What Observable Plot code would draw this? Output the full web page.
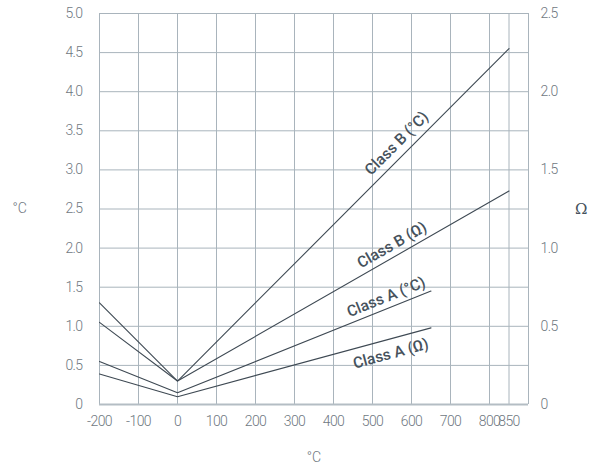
<!DOCTYPE html>
<html><head><meta charset="utf-8">
<script src="https://cdn.jsdelivr.net/npm/d3@7"></script>
<script src="https://cdn.jsdelivr.net/npm/@observablehq/plot@0.6"></script>
<style>
body{margin:0;background:#fff}
svg g[aria-label$="tick label"] text{letter-spacing:-0.6px}
</style>
</head><body><div id="chart"></div>
<script>
// ---- data ----
const seriesNames = ["Class B (°C)", "Class B (Ω)", "Class A (°C)", "Class A (Ω)"];
const seriesX = [[-200, 0, 850], [-200, 0, 850], [-200, 0, 650], [-200, 0, 650]];
const seriesY = [[1.3, 0.3, 4.55], [1.05, 0.3, 2.73], [0.55, 0.15, 1.45], [0.39, 0.1, 0.98]];
const xTicks = [-200, -100, 0, 100, 200, 300, 400, 500, 600, 700, 800, 850];
const yTicksLeft = [0, 0.5, 1, 1.5, 2, 2.5, 3, 3.5, 4, 4.5, 5];
const yTickLabelsLeft = ["0", "0.5", "1.0", "1.5", "2.0", "2.5", "3.0", "3.5", "4.0", "4.5", "5.0"];
const yTickLabelsRight = ["0", "0.5", "1.0", "1.5", "2.0", "2.5"];
const xAxisLabel = "°C", yLeftLabel = "°C", yRightLabel = "Ω";

// ---- label placement (style) ----
const labelAlongX = [562, 550, 535, 547];
const labelOffset = [-18, -13, -12, 15];

const rows = seriesNames.flatMap((name, i) => seriesX[i].map((x, j) => ({name, x, y: seriesY[i][j]})));

const W = 597, H = 475;
const common = {
  width: W, height: H,
  marginLeft: 99, marginRight: 69, marginTop: 13, marginBottom: 71,
  x: {domain: [-200, 900]},
  y: {domain: [0, 5]},
  style: {fontFamily: "Roboto, sans-serif", fontSize: "14px", color: "#6f787f", background: "#fff"}
};
const base = Plot.plot({...common, axis: null, marks: []});
const sx = base.scale("x"), sy = base.scale("y");

function interp(i, x) {
  const xs = seriesX[i], ys = seriesY[i];
  for (let j = 0; j < xs.length - 1; j++) {
    if (x >= xs[j] && x <= xs[j + 1]) return ys[j] + (ys[j + 1] - ys[j]) * (x - xs[j]) / (xs[j + 1] - xs[j]);
  }
  return ys[ys.length - 1];
}

const labelMarks = seriesNames.map((name, i) => {
  const xs = seriesX[i], ys = seriesY[i];
  const n = xs.length - 1;
  const ang = Math.atan2(sy.apply(ys[n]) - sy.apply(ys[n - 1]), sx.apply(xs[n]) - sx.apply(xs[n - 1])) * 180 / Math.PI;
  const lx = labelAlongX[i];
  return Plot.text([{x: lx, y: interp(i, lx), t: name}], {
    x: "x", y: "y", text: "t", rotate: ang, dy: labelOffset[i],
    fontSize: 15.5, fontWeight: 500, fill: "#46525c", textAnchor: "middle"
  });
});

const tickStyle = {fill: "#6f787f", fontWeight: 300, fontSize: 14};
const chart = Plot.plot({
  ...common,
  axis: null,
  marks: [
    Plot.gridX([...xTicks, 900], {stroke: "#a9b4bc", strokeOpacity: 1, strokeWidth: 1}),
    Plot.gridY(yTicksLeft, {stroke: "#a9b4bc", strokeOpacity: 1, strokeWidth: 1}),
    Plot.ruleY([0], {stroke: "#b4bdc4", strokeWidth: 2}),
    Plot.line(rows, {x: "x", y: "y", z: "name", stroke: "#3e4953", strokeWidth: 1.1}),
    ...labelMarks,
    Plot.axisX(xTicks, {anchor: "bottom", tickSize: 0, tickPadding: 12, label: null, tickFormat: d => String(d), ...tickStyle}),
    Plot.axisY(yTicksLeft, {anchor: "left", tickSize: 0, tickPadding: 17, label: null, tickFormat: (d, i) => yTickLabelsLeft[i], ...tickStyle}),
    Plot.axisY([0, 1, 2, 3, 4, 5], {anchor: "right", tickSize: 0, tickPadding: 12, label: null, tickFormat: (d, i) => yTickLabelsRight[i], ...tickStyle}),
    Plot.text([xAxisLabel], {frameAnchor: "bottom", dy: 57, fill: "#6f787f", fontSize: 14, fontWeight: 300}),
    Plot.text([yLeftLabel], {frameAnchor: "left", dx: -87, fill: "#6f787f", fontSize: 14, fontWeight: 300}),
    Plot.text([yRightLabel], {frameAnchor: "right", dx: 59, fill: "#46525c", fontSize: 15, fontFamily: "DejaVu Serif"})
  ]
});
document.getElementById("chart").appendChild(chart);
</script>
</body></html>
